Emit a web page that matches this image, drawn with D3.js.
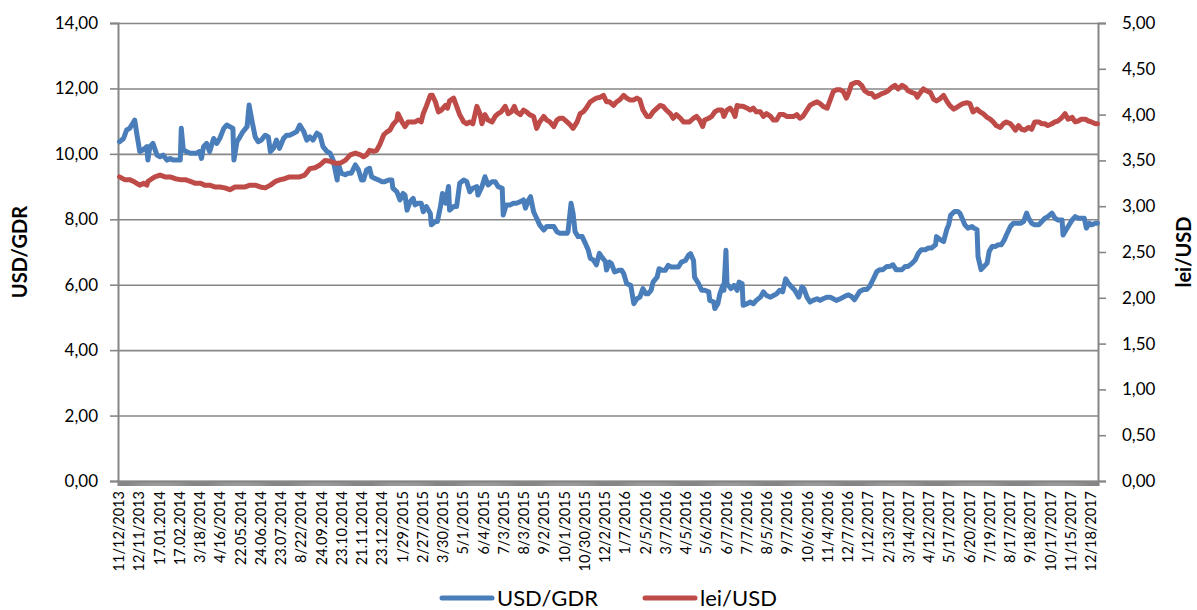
<!DOCTYPE html>
<html><head><meta charset="utf-8">
<script src="https://cdn.jsdelivr.net/npm/d3@7"></script>
<style>
body{margin:0;background:#fff}
svg{display:block}
text{font-family:Lato,"Open Sans",sans-serif;fill:#000}
</style>
</head><body>
<svg id="chart" width="1197" height="610"></svg>
<script>
// ---------------- data ----------------
const categoryCount = 968;     // daily observations on the category axis
const labelEvery = 20;         // a date label every 20 observations
const tickLabels = ["11/12/2013","12/11/2013","17.01.2014","17.02.2014","3/18/2014","4/16/2014","22.05.2014","24.06.2014","23.07.2014","8/22/2014","24.09.2014","23.10.2014","21.11.2014","23.12.2014","1/29/2015","2/27/2015","3/30/2015","5/1/2015","6/4/2015","7/3/2015","8/3/2015","9/2/2015","10/1/2015","10/30/2015","12/2/2015","1/7/2016","2/5/2016","3/7/2016","4/5/2016","5/6/2016","6/7/2016","7/7/2016","8/5/2016","9/7/2016","10/6/2016","11/4/2016","12/7/2016","1/12/2017","2/13/2017","3/14/2017","4/12/2017","5/17/2017","6/20/2017","7/19/2017","8/17/2017","9/18/2017","10/17/2017","11/15/2017","12/18/2017"];
const leftTicks = [0,2,4,6,8,10,12,14];
const rightTicks = [0,0.5,1,1.5,2,2.5,3,3.5,4,4.5,5];
const seriesNames = ["USD/GDR","lei/USD"];

// [observation index, value]
const usdGdr = [[1,10.37],[5,10.47],[8,10.73],[11,10.78],[15,10.98],[16,11.03],[18,10.63],[21,10.07],[24,10.12],[28,10.22],[29,9.81],[31,10.22],[34,10.32],[38,9.96],[41,9.91],[44,9.96],[48,9.81],[51,9.86],[54,9.81],[57,9.81],[61,9.81],[62,10.78],[64,10.12],[67,10.07],[71,10.02],[74,10.02],[77,10.02],[80,10.07],[82,9.86],[84,10.22],[87,10.32],[90,10.07],[94,10.47],[97,10.32],[100,10.47],[104,10.78],[107,10.88],[110,10.83],[113,10.78],[114,9.81],[117,10.37],[120,10.52],[123,10.68],[127,10.83],[129,11.49],[132,10.98],[135,10.52],[138,10.37],[141,10.42],[145,10.57],[148,10.52],[150,10.07],[153,10.17],[156,10.42],[159,10.17],[163,10.47],[166,10.57],[169,10.57],[173,10.63],[176,10.68],[179,10.88],[183,10.68],[186,10.42],[189,10.52],[192,10.42],[196,10.63],[199,10.57],[202,10.22],[206,10.07],[209,10.02],[212,9.81],[216,9.2],[217,9.71],[220,9.41],[224,9.36],[227,9.41],[230,9.41],[234,9.66],[237,9.51],[240,9.2],[242,9.2],[245,9.51],[248,9.56],[250,9.3],[253,9.25],[257,9.2],[260,9.15],[263,9.15],[267,9.2],[270,9.2],[271,8.95],[275,8.84],[278,8.59],[281,8.79],[283,8.74],[285,8.28],[288,8.54],[291,8.64],[293,8.44],[296,8.49],[299,8.49],[301,8.23],[304,8.39],[308,8.18],[309,7.83],[313,7.93],[315,7.93],[318,8.39],[320,8.79],[323,8.49],[326,9.0],[327,8.28],[331,8.39],[334,8.39],[337,9.1],[341,9.2],[344,9.15],[347,8.84],[350,8.95],[354,9.0],[355,8.74],[359,9.0],[362,9.3],[365,9.05],[369,9.15],[372,9.15],[375,9.0],[379,8.95],[380,8.13],[383,8.44],[387,8.44],[390,8.49],[393,8.49],[397,8.54],[400,8.59],[402,8.34],[405,8.59],[407,8.69],[410,8.23],[413,8.03],[416,7.83],[420,7.67],[423,7.78],[426,7.78],[430,7.78],[433,7.62],[436,7.57],[439,7.57],[443,7.57],[444,7.62],[447,8.49],[449,8.18],[451,7.62],[454,7.47],[458,7.47],[461,7.27],[464,7.06],[466,6.81],[469,6.76],[472,6.61],[475,6.96],[477,6.86],[481,6.71],[482,6.45],[485,6.69],[487,6.64],[490,6.39],[494,6.44],[497,6.44],[499,6.34],[502,6.03],[506,5.98],[509,5.42],[512,5.57],[515,5.62],[518,5.88],[521,5.72],[523,5.72],[526,5.83],[528,6.08],[532,6.23],[534,6.49],[537,6.44],[540,6.44],[543,6.59],[546,6.54],[550,6.54],[553,6.54],[556,6.69],[560,6.74],[563,6.9],[565,6.95],[568,6.74],[569,6.23],[573,6.03],[576,5.83],[579,5.83],[583,5.78],[584,5.52],[588,5.47],[589,5.27],[592,5.42],[594,5.72],[597,5.98],[598,5.83],[600,7.05],[601,6.03],[605,5.88],[608,5.98],[611,5.83],[613,6.08],[616,6.03],[617,5.37],[621,5.42],[624,5.47],[627,5.42],[630,5.52],[634,5.62],[637,5.78],[640,5.67],[644,5.62],[647,5.67],[650,5.72],[653,5.83],[656,5.78],[659,6.18],[662,6.03],[665,5.93],[668,5.83],[672,5.62],[675,5.93],[677,5.88],[680,5.62],[683,5.47],[686,5.52],[690,5.57],[693,5.52],[696,5.57],[700,5.62],[703,5.62],[706,5.57],[709,5.52],[713,5.57],[716,5.62],[719,5.67],[721,5.69],[724,5.64],[727,5.54],[729,5.64],[732,5.79],[736,5.85],[739,5.85],[742,5.95],[746,6.2],[749,6.4],[752,6.46],[755,6.46],[759,6.56],[762,6.56],[765,6.61],[768,6.46],[770,6.46],[774,6.46],[777,6.56],[780,6.56],[784,6.66],[787,6.76],[790,6.96],[793,7.07],[797,7.07],[800,7.12],[803,7.12],[807,7.22],[808,7.47],[812,7.37],[815,7.32],[818,7.68],[820,7.83],[822,8.13],[826,8.24],[829,8.24],[831,8.19],[834,7.98],[836,7.83],[839,7.73],[843,7.78],[845,7.73],[848,7.68],[849,6.86],[852,6.46],[855,6.56],[858,6.66],[860,7.02],[863,7.17],[866,7.17],[869,7.22],[872,7.22],[875,7.37],[877,7.52],[881,7.78],[884,7.88],[887,7.88],[891,7.88],[894,7.93],[897,8.19],[899,8.03],[902,7.88],[905,7.83],[909,7.83],[912,7.93],[915,8.03],[918,8.08],[922,8.19],[925,8.03],[928,7.98],[932,7.98],[933,7.52],[936,7.68],[938,7.78],[942,7.98],[945,8.08],[948,8.03],[951,8.03],[954,8.03],[956,7.73],[959,7.88],[961,7.83],[965,7.88],[967,7.88]];

const leiUsd = [[1,3.32],[6,3.29],[11,3.29],[15,3.27],[18,3.25],[21,3.23],[25,3.25],[28,3.23],[29,3.27],[33,3.30],[36,3.32],[41,3.34],[46,3.32],[51,3.32],[56,3.30],[61,3.29],[66,3.29],[71,3.27],[76,3.25],[81,3.25],[85,3.23],[90,3.23],[95,3.21],[100,3.21],[105,3.20],[110,3.18],[115,3.21],[120,3.21],[125,3.21],[130,3.23],[135,3.23],[140,3.21],[145,3.20],[150,3.23],[155,3.27],[160,3.29],[164,3.30],[169,3.32],[174,3.32],[179,3.32],[184,3.34],[189,3.41],[194,3.42],[199,3.45],[204,3.50],[209,3.49],[214,3.47],[219,3.47],[224,3.50],[229,3.56],[234,3.58],[239,3.56],[242,3.54],[245,3.56],[248,3.61],[252,3.60],[255,3.61],[258,3.67],[262,3.78],[265,3.81],[268,3.83],[271,3.89],[275,3.94],[276,4.01],[280,3.92],[283,3.87],[286,3.92],[290,3.92],[293,3.92],[296,3.94],[299,3.92],[301,4.01],[304,4.09],[308,4.21],[310,4.21],[313,4.14],[316,4.03],[319,4.05],[323,4.10],[325,4.07],[327,4.15],[331,4.18],[334,4.09],[337,4.00],[341,3.92],[344,3.90],[347,3.92],[350,3.90],[354,4.09],[357,4.01],[359,3.90],[362,4.00],[365,3.94],[369,3.92],[372,3.98],[375,4.01],[378,4.03],[382,4.09],[385,4.01],[388,4.03],[391,4.09],[393,4.03],[397,4.00],[400,4.05],[403,4.03],[406,4.00],[410,3.98],[413,3.85],[416,3.92],[420,3.98],[423,3.94],[426,3.92],[430,3.87],[433,3.94],[436,3.96],[439,3.96],[443,3.92],[446,3.89],[449,3.85],[453,3.92],[456,4.01],[459,4.03],[462,4.07],[466,4.14],[469,4.16],[472,4.18],[476,4.19],[479,4.21],[482,4.14],[485,4.14],[489,4.10],[492,4.14],[495,4.16],[499,4.21],[502,4.18],[505,4.16],[509,4.16],[512,4.18],[515,4.16],[518,4.05],[522,3.98],[525,3.98],[528,4.03],[532,4.07],[535,4.10],[538,4.09],[541,4.05],[545,4.01],[548,3.96],[551,4.00],[555,3.96],[558,3.92],[561,3.92],[564,3.92],[568,3.96],[571,3.98],[574,3.94],[577,3.87],[579,3.94],[583,3.96],[586,3.98],[589,4.03],[592,4.05],[596,4.05],[598,3.98],[601,4.05],[604,4.07],[607,4.03],[609,3.98],[611,4.10],[614,4.09],[617,4.09],[621,4.07],[624,4.05],[627,4.07],[630,4.03],[634,4.03],[637,3.98],[640,4.01],[644,3.98],[647,3.94],[650,3.94],[653,4.00],[657,4.00],[660,3.98],[663,3.98],[667,3.98],[670,4.00],[673,3.96],[676,3.98],[680,4.05],[683,4.10],[686,4.12],[690,4.14],[693,4.12],[696,4.09],[700,4.07],[703,4.16],[706,4.25],[709,4.27],[713,4.27],[716,4.25],[719,4.18],[721,4.23],[724,4.33],[728,4.35],[731,4.35],[734,4.32],[737,4.26],[741,4.23],[744,4.23],[747,4.19],[751,4.21],[754,4.23],[757,4.24],[760,4.26],[764,4.30],[767,4.32],[770,4.28],[774,4.32],[777,4.30],[780,4.26],[784,4.24],[787,4.23],[789,4.19],[792,4.24],[795,4.28],[798,4.26],[802,4.24],[805,4.17],[808,4.15],[811,4.17],[815,4.21],[818,4.15],[821,4.10],[825,4.06],[828,4.08],[831,4.10],[834,4.12],[838,4.13],[841,4.12],[844,4.03],[848,4.06],[851,4.03],[854,4.01],[858,3.97],[861,3.95],[864,3.92],[867,3.88],[871,3.86],[874,3.90],[877,3.92],[881,3.90],[884,3.86],[886,3.83],[889,3.88],[892,3.84],[895,3.83],[899,3.86],[902,3.84],[905,3.92],[909,3.92],[912,3.90],[915,3.90],[918,3.88],[922,3.90],[925,3.92],[928,3.93],[932,3.97],[935,4.01],[938,3.95],[942,3.97],[945,3.92],[948,3.93],[951,3.95],[955,3.95],[958,3.93],[961,3.92],[965,3.90],[967,3.90]];

// ---------------- drawing ----------------
const plot = {left:118, right:1098, top:23, bottom:481};
const gridColor = "#868686";
const colors = {usd:"#4A7EBB", lei:"#BE4B48"};
const fmt = v => d3.format(".2f")(v).replace(".", ",");

const svg = d3.select("#chart");
const x = d3.scaleLinear().domain([0, categoryCount]).range([plot.left, plot.right]);
const yL = d3.scaleLinear().domain([0, 14]).range([plot.bottom, plot.top]);
const yR = d3.scaleLinear().domain([0, 5]).range([plot.bottom, plot.top]);

// horizontal gridlines
const grid = svg.append("g").attr("transform", `translate(${plot.left},0)`)
  .call(d3.axisLeft(yL).tickValues(leftTicks).tickSize(-(plot.right - plot.left)).tickFormat(""));
grid.select(".domain").remove();
grid.selectAll("line").attr("stroke", gridColor).attr("stroke-width", 1.6);

// left axis
const gL = svg.append("g").attr("transform", `translate(${plot.left},0)`)
  .call(d3.axisLeft(yL).tickValues(leftTicks).tickSize(8).tickPadding(12).tickFormat(fmt));
gL.select(".domain").attr("stroke", gridColor).attr("stroke-width", 2);
gL.selectAll(".tick line").attr("stroke", gridColor).attr("stroke-width", 1.6);
gL.selectAll("text").attr("font-size", 17).attr("font-family", "Lato").attr("fill", "#000");

// right axis
const gR = svg.append("g").attr("transform", `translate(${plot.right},0)`)
  .call(d3.axisRight(yR).tickValues(rightTicks).tickSize(8).tickPadding(16).tickFormat(fmt));
gR.select(".domain").attr("stroke", gridColor).attr("stroke-width", 2);
gR.selectAll(".tick line").attr("stroke", gridColor).attr("stroke-width", 1.6);
gR.selectAll("text").attr("font-size", 17).attr("font-family", "Lato").attr("fill", "#000");

// bottom category axis: a tick mark for each observation forms the band
const gB = svg.append("g").attr("transform", `translate(0,${plot.bottom})`)
  .call(d3.axisBottom(x).tickValues(d3.range(categoryCount + 1)).tickSize(5).tickFormat(""));
gB.select(".domain").attr("stroke", gridColor).attr("stroke-width", 2);
gB.selectAll(".tick line").attr("stroke", gridColor).attr("stroke-width", 1.2);

// category labels
const labelIdx = tickLabels.map((d, i) => i * labelEvery);
const gLab = svg.append("g").attr("transform", `translate(0,${plot.bottom})`)
  .call(d3.axisBottom(x).tickValues(labelIdx.map(i => i + 0.5)).tickSize(0)
    .tickFormat((d, i) => tickLabels[i]));
gLab.select(".domain").remove();
gLab.selectAll("text")
  .attr("font-size", 14.5).attr("font-family", "Lato").attr("fill", "#000")
  .attr("text-anchor", "end")
  .attr("transform", "rotate(-90)")
  .attr("x", -10).attr("y", 0).attr("dy", "0.36em");

// axis titles
svg.append("text").attr("transform", "translate(27,252) rotate(-90)")
  .attr("text-anchor", "middle").attr("font-weight", "bold").attr("font-size", 20).text("USD/GDR");
svg.append("text").attr("transform", "translate(1191,252) rotate(-90)")
  .attr("text-anchor", "middle").attr("font-weight", "bold").attr("font-size", 20).text("lei/USD");

// lines
const lineL = d3.line().x(d => x(d[0] + 0.5)).y(d => yL(d[1]));
const lineR = d3.line().x(d => x(d[0] + 0.5)).y(d => yR(d[1]));
svg.append("path").datum(usdGdr).attr("d", lineL).attr("fill", "none")
  .attr("stroke", colors.usd).attr("stroke-width", 5)
  .attr("stroke-linejoin", "round").attr("stroke-linecap", "round");
svg.append("path").datum(leiUsd).attr("d", lineR).attr("fill", "none")
  .attr("stroke", colors.lei).attr("stroke-width", 5)
  .attr("stroke-linejoin", "round").attr("stroke-linecap", "round");

// legend
const legend = [{name: seriesNames[0], c: colors.usd, x0: 442}, {name: seriesNames[1], c: colors.lei, x0: 645}];
const lg = svg.append("g").selectAll("g").data(legend).enter().append("g");
lg.append("line").attr("x1", d => d.x0).attr("x2", d => d.x0 + 50)
  .attr("y1", 598).attr("y2", 598).attr("stroke", d => d.c).attr("stroke-width", 5).attr("stroke-linecap", "round");
lg.append("text").attr("x", d => d.x0 + 55).attr("y", 598).attr("dy", "0.36em")
  .attr("font-size", 22).text(d => d.name);
</script>
</body></html>
